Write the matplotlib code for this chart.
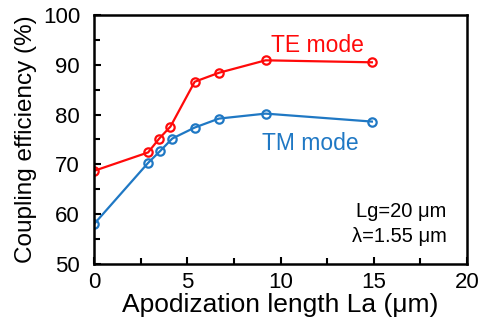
import numpy as np
import matplotlib.pyplot as plt
from matplotlib.ticker import MultipleLocator

plt.rcParams['font.family'] = ['Liberation Sans', 'DejaVu Sans']

# apodization length (um) and coupling efficiency (%)
te_x = [0, 2.9, 3.5, 4.1, 5.4, 6.7, 9.2, 14.9]
te_y = [68.7, 72.4, 75.2, 77.6, 86.6, 88.4, 90.9, 90.5]
tm_x = [0, 2.9, 3.55, 4.2, 5.4, 6.7, 9.2, 14.9]
tm_y = [58.0, 70.3, 72.7, 75.2, 77.4, 79.2, 80.2, 78.6]

red = '#ff0a0a'
blue = '#1f78c4'

fig = plt.figure(figsize=(4.79, 3.27), dpi=100)
ax = fig.add_axes([94/479, 1 - 264/327, 373/479, 249/327])

ax.plot(te_x, te_y, '-o', color=red, lw=1.6, ms=6, mfc='none', mew=1.6)
ax.plot(tm_x, tm_y, '-o', color=blue, lw=1.6, ms=6, mfc='none', mew=1.6)

ax.set_xlim(0, 20)
ax.set_ylim(50, 100)
ax.xaxis.set_major_locator(MultipleLocator(5))
ax.xaxis.set_minor_locator(MultipleLocator(2.5))
ax.yaxis.set_major_locator(MultipleLocator(10))
ax.yaxis.set_minor_locator(MultipleLocator(5))
ax.tick_params(which='both', direction='in', width=1.5, labelsize=16,
               top=False, right=False)
ax.tick_params(which='major', length=5)
ax.tick_params(which='minor', length=4)
ax.tick_params(axis='x', pad=6)
ax.tick_params(axis='y', pad=10)
for s in ax.spines.values():
    s.set_linewidth(1.8)

ax.set_xlabel('Apodization length La (\u03bcm)', fontsize=19, labelpad=0)
ax.set_ylabel('Coupling efficiency (%)', fontsize=17.5, labelpad=4)

ax.text(12.0, 50 + (264-45)/4.98, 'TE mode', color=red, fontsize=16.5,
        ha='center', va='center')
ax.text(11.6, 50 + (264-143)/4.98, 'TM mode', color=blue, fontsize=16.5,
        ha='center', va='center')
ax.text(18.9, 50 + (264-212)/4.98, 'Lg=20 \u03bcm', fontsize=14.5, ha='right', va='center')
ax.text(18.9, 50 + (264-237)/4.98, '\u03bb=1.55 \u03bcm', fontsize=14.5, ha='right', va='center')

fig.savefig('out.png', dpi=100)
